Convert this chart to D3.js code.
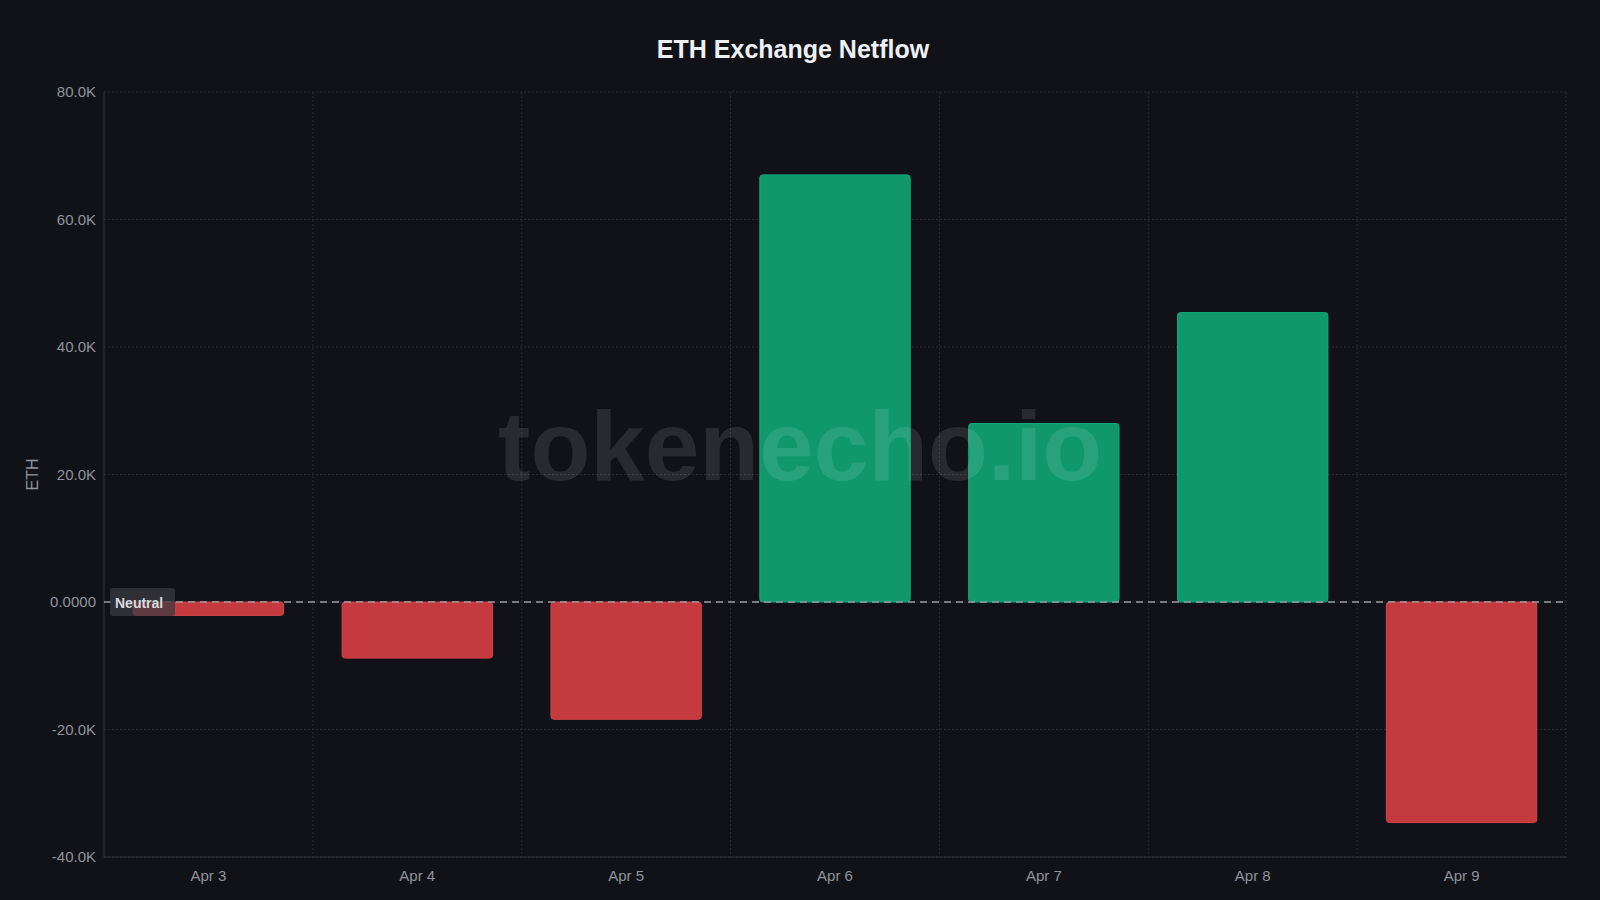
<!DOCTYPE html><html><head><meta charset="utf-8">
<script src="https://cdn.jsdelivr.net/npm/d3@7"></script>
<style>body{margin:0;background:#111218;}svg{display:block}</style></head><body>
<script>
const categories=["Apr 3","Apr 4","Apr 5","Apr 6","Apr 7","Apr 8","Apr 9"];
const netflow=[-2100,-8800,-18400,67000,28000,45400,-34600];
const yTicks=[-40000,-20000,0,20000,40000,60000,80000];
const W=1600,H=900,m={l:104,r:34,t:92,b:43};
const F="'Liberation Sans', Arial, sans-serif";
const svg=d3.select("body").append("svg").attr("width",W).attr("height",H).style("background","#111218");
const x=d3.scaleBand().domain(categories).range([m.l,W-m.r]).paddingInner(0.28).paddingOuter(0.14);
const xg=d3.scaleBand().domain(categories).range([m.l,W-m.r]);
const y=d3.scaleLinear().domain([-40000,80000]).range([H-m.b,m.t]);
const fmt=v=>v===0?"0.0000":(v/1000).toFixed(1)+"K";
svg.append("g").selectAll("line").data(yTicks).join("line").attr("x1",m.l).attr("x2",W-m.r).attr("y1",d=>y(d)).attr("y2",d=>y(d)).attr("stroke","#2a2c33").attr("stroke-dasharray","2,2");
svg.append("g").selectAll("line").data(categories).join("line").attr("x1",d=>xg(d)+xg.bandwidth()).attr("x2",d=>xg(d)+xg.bandwidth()).attr("y1",m.t).attr("y2",H-m.b).attr("stroke","#2a2c33").attr("stroke-dasharray","2,2");
svg.append("line").attr("x1",m.l).attr("x2",m.l).attr("y1",m.t).attr("y2",H-m.b).attr("stroke","#33353c");
svg.append("line").attr("x1",m.l).attr("x2",W-m.r).attr("y1",H-m.b).attr("y2",H-m.b).attr("stroke","#33353c");
svg.append("g").selectAll("rect").data(netflow).join("rect")
 .attr("x",(d,i)=>x(categories[i])).attr("width",x.bandwidth())
 .attr("y",d=>y(Math.max(0,d))).attr("height",d=>Math.abs(y(d)-y(0)))
 .attr("rx",3).attr("fill",d=>d>=0?"#10986b":"#c53a3e").attr("stroke",d=>d>=0?"#14a877":"#d4444a").attr("stroke-width",1);
svg.append("text").attr("x",800).attr("y",480).attr("text-anchor","middle").attr("font-family",F).attr("font-weight","bold").attr("font-size",98).attr("fill","#ffffff").attr("fill-opacity",0.1).text("tokenecho.io");
svg.append("line").attr("x1",m.l).attr("x2",W-m.r).attr("y1",y(0)).attr("y2",y(0)).attr("stroke","#9a9ca4").attr("stroke-width",1.5).attr("stroke-dasharray","7,5");
svg.append("rect").attr("x",m.l+6).attr("y",y(0)-14).attr("width",65).attr("height",28).attr("rx",3).attr("fill","#3a3b40").attr("fill-opacity",0.75);
svg.append("text").attr("x",m.l+11).attr("y",y(0)+6).attr("font-family",F).attr("font-weight","bold").attr("font-size",14).attr("fill","#d8d9de").text("Neutral");
svg.append("g").selectAll("text").data(yTicks).join("text").attr("x",m.l-8).attr("y",d=>y(d)+5).attr("text-anchor","end").attr("font-family",F).attr("font-size",15).attr("fill","#8f939c").text(fmt);
svg.append("g").selectAll("text").data(categories).join("text").attr("x",d=>xg(d)+xg.bandwidth()/2).attr("y",H-m.b+24).attr("text-anchor","middle").attr("font-family",F).attr("font-size",15).attr("fill","#8f939c").text(d=>d);
svg.append("text").attr("transform",`translate(38,${(m.t+H-m.b)/2}) rotate(-90)`).attr("text-anchor","middle").attr("font-family",F).attr("font-size",16).attr("fill","#8f939c").text("ETH");
svg.append("text").attr("x",793).attr("y",58).attr("text-anchor","middle").attr("font-family",F).attr("font-weight","bold").attr("font-size",25).attr("fill","#eef0f4").text("ETH Exchange Netflow");
</script></body></html>
